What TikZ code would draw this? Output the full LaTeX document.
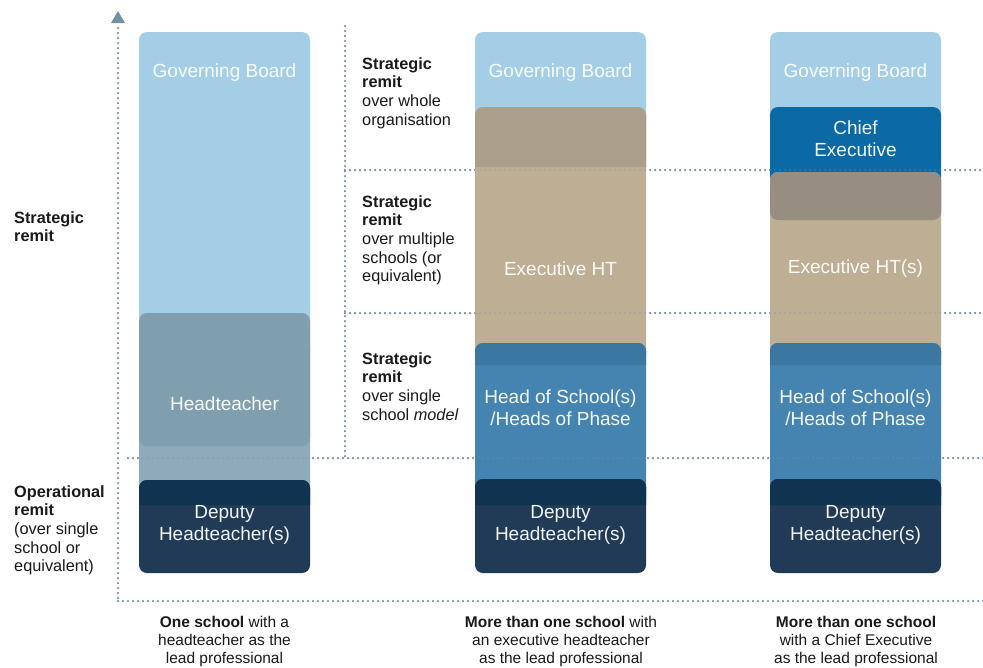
\documentclass[tikz,border=0pt]{standalone}
\usepackage{fontspec}
\setmainfont{Liberation Sans}
\definecolor{gbblue}{HTML}{A3CEE5}
\definecolor{htgray}{HTML}{7F9FAF}
\definecolor{htlight}{HTML}{8FAAB8}
\definecolor{tan}{HTML}{BDAE94}
\definecolor{tandark}{HTML}{A99F8B}
\definecolor{cedark}{HTML}{0B69A6}
\definecolor{cegray}{HTML}{978E81}
\definecolor{hosblue}{HTML}{4584B0}
\definecolor{hosband}{HTML}{3C77A1}
\definecolor{dep}{HTML}{213A55}
\definecolor{depband}{HTML}{0F3350}
\definecolor{dotc}{HTML}{7A91A3}
\definecolor{arrc}{HTML}{7190A3}
\definecolor{txt}{HTML}{1A1A1A}
\begin{document}
\begin{tikzpicture}[x=1pt,y=-1pt,
  dots/.style={draw=dotc, line width=2.5pt, line cap=round, dash pattern=on 0pt off 5pt},
  box/.style={rounded corners=8pt},
  role/.style={text=white, text opacity=0.94, font=\fontsize{19}{22}\selectfont, align=center, inner sep=0pt},
  lab/.style={text=txt, font=\fontsize{16.3}{18.7}\selectfont, align=left, anchor=north west, inner sep=0pt},
  foot/.style={text=txt, font=\fontsize{15.5}{18.2}\selectfont, align=center, anchor=north, inner sep=0pt}]
\useasboundingbox (0,0) rectangle (983,667);
\fill[white] (0,0) rectangle (983,667);

% dotted guide lines (behind)
\coordinate (axbot) at (118,598);
\coordinate (axtop) at (118,24);
\coordinate (hb1) at (118,601);
\coordinate (hb2) at (983,601);
\draw[dots] (hb1) -- (hb2);
\draw[dots] (axbot) -- (axtop);
\fill[arrc] (118,11) -- (125,23) -- (111,23) -- cycle;
\draw[dots] (345,26) -- (345,456);
\draw[dots] (128,458) -- (983,458);
\draw[dots] (345,170) -- (983,170);
\draw[dots] (345,313) -- (983,313);

% column 1
\fill[gbblue, box] (139,32) rectangle (310,360);
\fill[htlight, box] (139,340) rectangle (310,505);
\fill[htgray, box] (139,313) rectangle (310,446);
\fill[dep, box] (139,480) rectangle (310,573);
\fill[depband] (139,505) [rounded corners=8pt] -- (139,480) -- (310,480) [sharp corners] -- (310,505) -- cycle;

% column 2
\fill[gbblue, box] (475,32) rectangle (646,167);
\fill[tan, box] (475,107) rectangle (646,365);
\fill[tandark] (475,167) [rounded corners=8pt] -- (475,107) -- (646,107) [sharp corners] -- (646,167) -- cycle;
\fill[hosblue, box] (475,343) rectangle (646,505);
\fill[hosband] (475,365) [rounded corners=8pt] -- (475,343) -- (646,343) [sharp corners] -- (646,365) -- cycle;
\fill[dep, box] (475,479) rectangle (646,573);
\fill[depband] (475,505) [rounded corners=8pt] -- (475,479) -- (646,479) [sharp corners] -- (646,505) -- cycle;

% column 3
\fill[gbblue, box] (770,32) rectangle (941,120);
\fill[cedark, box] (770,107) rectangle (941,220);
\fill[tan, box] (770,172) rectangle (941,365);
\fill[cegray, box] (770,172) rectangle (941,220);
\fill[hosblue, box] (770,343) rectangle (941,505);
\fill[hosband] (770,365) [rounded corners=8pt] -- (770,343) -- (941,343) [sharp corners] -- (941,365) -- cycle;
\fill[dep, box] (770,479) rectangle (941,573);
\fill[depband] (770,505) [rounded corners=8pt] -- (770,479) -- (941,479) [sharp corners] -- (941,505) -- cycle;

% faint guide lines over the boxes
\begin{scope}[opacity=0.3]
\draw[dots] (128,458) -- (983,458);
\draw[dots] (345,170) -- (983,170);
\draw[dots] (345,313) -- (983,313);
\end{scope}

% role texts
\node[role] (gb1) at (224.5,73) {Governing Board};
\node[role] (ht1) at (224.5,404) {Headteacher};
\node[role] (dp1) at (224.5,525) {Deputy\\Headteacher(s)};
\node[role] (gb2) at (560.5,73) {Governing Board};
\node[role] (eh2) at (560.5,269) {Executive HT};
\node[role] (hs2) at (560.5,408) {Head of School(s)\\/Heads of Phase};
\node[role] (dp2) at (560.5,525) {Deputy\\Headteacher(s)};
\node[role] (gb3) at (855.5,73) {Governing Board};
\node[role] (ce3) at (855.5,139) {Chief\\Executive};
\node[role] (eh3) at (855.5,269) {Executive HT(s)};
\node[role] (hs3) at (855.5,408) {Head of School(s)\\/Heads of Phase};
\node[role] (dp3) at (855.5,525) {Deputy\\Headteacher(s)};

% left labels
\node[lab] (ls) at (14,211) {\textbf{Strategic}\\\textbf{remit}};
\node[lab] (lo) at (14,485) {\textbf{Operational}\\\textbf{remit}\\(over single\\school or\\equivalent)};

% middle labels
\node[lab] (m1) at (362,57) {\textbf{Strategic}\\\textbf{remit}\\over whole\\organisation};
\node[lab] (m2) at (362,195) {\textbf{Strategic}\\\textbf{remit}\\over multiple\\schools (or\\equivalent)};
\node[lab] (m3) at (362,352) {\textbf{Strategic}\\\textbf{remit}\\over single\\school \textit{model}};

% footers
\node[foot] (f1) at (224.5,616) {\textbf{One school} with a\\headteacher as the\\lead professional};
\node[foot] (f2) at (561,616) {\textbf{More than one school} with\\an executive headteacher\\as the lead professional};
\node[foot] (f3) at (856,616) {\textbf{More than one school}\\with a Chief Executive\\as the lead professional};
\end{tikzpicture}
\end{document}
